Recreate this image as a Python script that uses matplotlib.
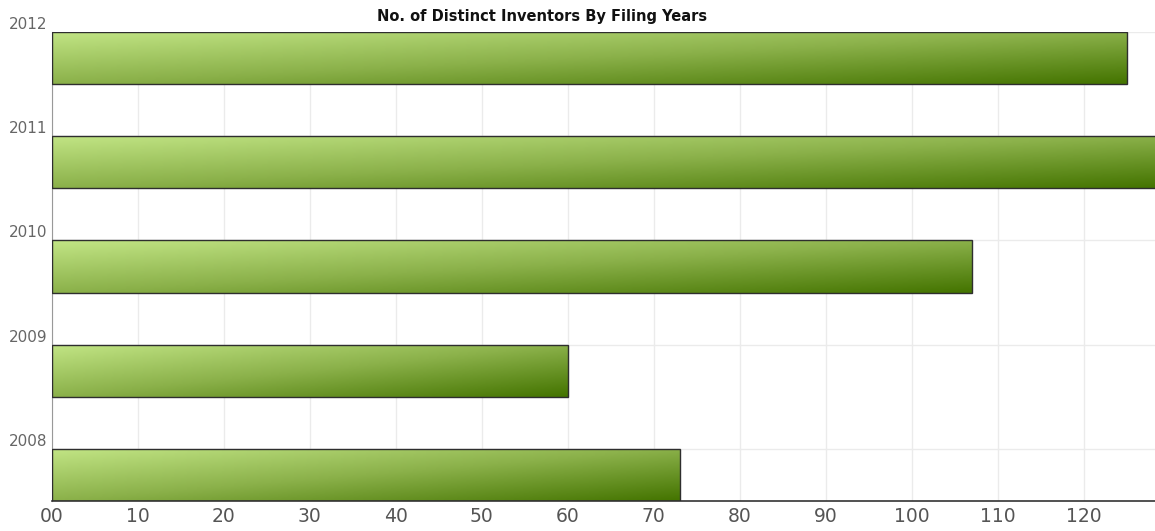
import numpy as np
import matplotlib.pyplot as plt
from matplotlib.colors import LinearSegmentedColormap
from matplotlib.patches import Rectangle

# data
years = ['2008', '2009', '2010', '2011', '2012']
inventors = [73, 60, 107, 129, 125]
xticks = [0, 10, 20, 30, 40, 50, 60, 70, 80, 90, 100, 110, 120]
xticklabels = ['00', '10', '20', '30', '40', '50', '60', '70', '80', '90', '100', '110', '120']

green = LinearSegmentedColormap.from_list('green', ['#c2e585', '#8bb14a', '#447400'])

fig = plt.figure(figsize=(11.55, 5.31), dpi=100)
ax = fig.add_axes([52/1155, 30/531, 1103/1155, 469/531])

pos = np.arange(len(years))
ax.set_xticks(xticks, xticklabels)
ax.set_yticks(pos, years)
ax.grid(True, color='#ebebeb', lw=1)
ax.set_axisbelow(True)

# gradient bars, light at top-left, dark at bottom-right
u, v = np.meshgrid(np.linspace(0, 1, 200), np.linspace(0, 1, 60))
grad = (u + v) / 2
for y, val in zip(pos, inventors):
    rect = Rectangle((0, y - 0.5), val, 0.5, facecolor='none', edgecolor='#2e2e2e', lw=1, zorder=3)
    ax.add_patch(rect)
    im = ax.imshow(grad, cmap=green, vmin=0, vmax=1, aspect='auto',
                   extent=(0, val, y - 0.5, y), origin='upper', zorder=2)
    im.set_clip_path(rect)

ax.set_xlim(0, 128.3)
ax.set_ylim(-0.5, 4)

for s in ['top', 'right']:
    ax.spines[s].set_visible(False)
ax.spines['left'].set_color('#999999')
ax.spines['bottom'].set_color('#333333')
ax.spines['bottom'].set_linewidth(1.2)

ax.tick_params(axis='x', length=0, labelsize=13.5, labelcolor='#555555', pad=4)
ax.tick_params(axis='y', length=0, labelsize=11, labelcolor='#666666', pad=3)
for lab in ax.get_yticklabels():
    lab.set_verticalalignment('bottom')

fig.text(542/1155, 1 - 17/531, 'No. of Distinct Inventors By Filing Years',
         ha='center', va='center', fontsize=10.5, fontweight='bold', color='#111111')

fig.savefig('out.png', dpi=100)
